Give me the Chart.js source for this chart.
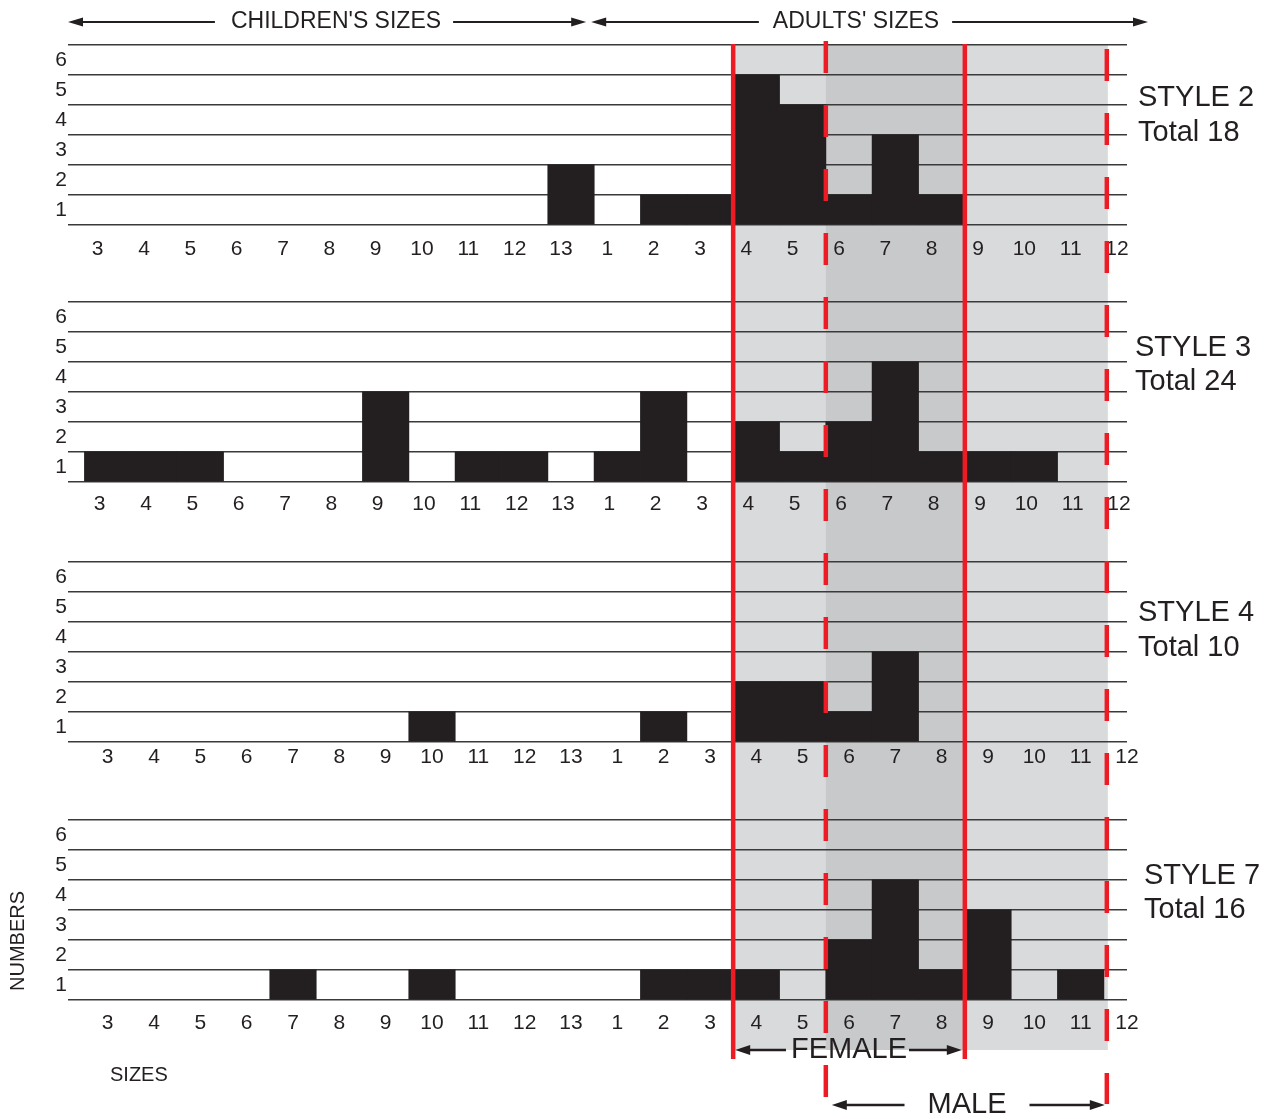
<!DOCTYPE html>
<html><head><meta charset="utf-8">
<script src="https://cdn.jsdelivr.net/npm/chart.js@4.4.1/dist/chart.umd.min.js"></script>
<style>
html,body{margin:0;padding:0;background:#fff;}
#wrap{position:relative;width:1269px;height:1119px;overflow:hidden;background:#fff;}
#wrap canvas{position:absolute;left:0;}
</style></head><body>
<div id="wrap">
<canvas id="c1" width="1269" height="280" style="top:0px"></canvas>
<canvas id="c2" width="1269" height="260" style="top:280px"></canvas>
<canvas id="c3" width="1269" height="260" style="top:540px"></canvas>
<canvas id="c4" width="1269" height="319" style="top:800px"></canvas>
</div>
<script>
// ---------- DATA ----------
const childSizes = ['3','4','5','6','7','8','9','10','11','12','13'];
const adultSizes = ['1','2','3','4','5','6','7','8','9','10','11','12'];
const sizeLabels = childSizes.concat(adultSizes);
const yTickLabels = [1, 2, 3, 4, 5, 6];
const styleNames = ['STYLE 2', 'STYLE 3', 'STYLE 4', 'STYLE 7'];
//                 children 3..13               adults 1..12
const style2 = [0,0,0,0,0,0,0,0,0,0,2,  0,1,1,5,4,1,3,1,0,0,0,0];
const style3 = [1,1,1,0,0,0,3,0,1,1,0,  1,3,0,2,1,2,4,1,1,1,0,0];
const style4 = [0,0,0,0,0,0,0,1,0,0,0,  0,1,0,2,2,1,3,0,0,0,0,0];
const style7 = [0,0,0,0,1,0,0,1,0,0,0,  0,1,1,1,0,2,4,1,3,0,1,0];
const femaleRange = ['4', '8'];   // adult sizes
const maleRange = ['6', '11'];    // adult sizes
const headerTexts = ["CHILDREN'S SIZES", "ADULTS' SIZES"];
const footerTexts = ['FEMALE', 'MALE'];
const axisTitles = ['NUMBERS', 'SIZES'];

// ---------- STYLE / LAYOUT ----------
const FONT = "'Liberation Sans', Arial, Helvetica, sans-serif";
const INK = '#231f20';
const RED = '#ed1c24';
const LIGHT = '#d9dadc';
const DARK = '#c8c9cb';
const GRID = '#3a3a3a';
const X_MIN = -0.356, X_MAX = 22.5;
const AREA_LEFT = 68, AREA_RIGHT = 1127, AREA_H = 180, XAXIS_H = 40;

const adultIdx = s => childSizes.length + adultSizes.indexOf(s);
const fStart = adultIdx(femaleRange[0]), fEnd = adultIdx(femaleRange[1]) + 1;
const mStart = adultIdx(maleRange[0]), mEnd = adultIdx(maleRange[1]) + 1;

const panels = [
  {id:'c1', top:0,   h:280, areaTop:45,  values:style2, name:styleNames[0], lblOff:-10, tickPad:12, sideX:1138, s1:53, s2:88},
  {id:'c2', top:280, h:260, areaTop:302, values:style3, name:styleNames[1], lblOff:-8,  tickPad:10, sideX:1135, s1:46, s2:80},
  {id:'c3', top:540, h:260, areaTop:562, values:style4, name:styleNames[2], lblOff:0,   tickPad:3,  sideX:1138, s1:51, s2:86},
  {id:'c4', top:800, h:319, areaTop:820, values:style7, name:styleNames[3], lblOff:0,   tickPad:11, sideX:1144, s1:56, s2:90}
];

const GREY_TOP = 45, GREY_BOTTOM = 1050;

function arrowLine(ctx, xFrom, xTo, y, lw, headLen, headHalf) {
  const dir = Math.sign(xTo - xFrom);
  ctx.lineWidth = lw;
  ctx.beginPath(); ctx.moveTo(xFrom, y); ctx.lineTo(xTo - dir * headLen * 0.7, y); ctx.stroke();
  ctx.beginPath(); ctx.moveTo(xTo, y);
  ctx.lineTo(xTo - dir * headLen, y - headHalf);
  ctx.lineTo(xTo - dir * headLen, y + headHalf);
  ctx.closePath(); ctx.fill();
}

function makeOverlay(p, index) {
  return {
    id: 'overlay' + index,
    beforeDraw(chart) {
      const ctx = chart.ctx, xs = chart.scales.x;
      const P = v => xs.getPixelForValue(v);
      const top = Math.max(GREY_TOP - p.top, index === 0 ? chart.chartArea.top : 0);
      const bottom = Math.min(GREY_BOTTOM - p.top, p.h);
      ctx.save();
      ctx.fillStyle = LIGHT;
      ctx.fillRect(P(fStart), top, P(mEnd) + 4 - P(fStart), bottom - top);
      ctx.fillStyle = DARK;
      ctx.fillRect(P(mStart), top, P(fEnd) - P(mStart), bottom - top);
      ctx.restore();
    },
    afterDraw(chart) {
      const ctx = chart.ctx, xs = chart.scales.x, area = chart.chartArea;
      const P = v => xs.getPixelForValue(v);
      ctx.save();
      // red boundary lines (page coordinates converted to this canvas)
      ctx.strokeStyle = RED;
      ctx.lineWidth = 4.5;
      ctx.setLineDash([]);
      [fStart, fEnd].forEach(v => {
        ctx.beginPath(); ctx.moveTo(P(v), 44 - p.top); ctx.lineTo(P(v), 1059 - p.top); ctx.stroke();
      });
      ctx.setLineDash([32, 32]);
      ctx.beginPath(); ctx.moveTo(P(mStart), 41 - p.top); ctx.lineTo(P(mStart), 1097 - p.top); ctx.stroke();
      ctx.beginPath(); ctx.moveTo(P(mEnd) + 3, 49 - p.top); ctx.lineTo(P(mEnd) + 3, 1104 - p.top); ctx.stroke();
      ctx.setLineDash([]);

      ctx.fillStyle = INK; ctx.strokeStyle = INK;
      // side labels
      const total = p.values.reduce((a, b) => a + b, 0);
      ctx.font = '29px ' + FONT;
      ctx.textAlign = 'left'; ctx.textBaseline = 'middle';
      ctx.fillText(p.name, p.sideX, area.top + p.s1);
      ctx.fillText('Total ' + total, p.sideX, area.top + p.s2);

      if (index === 0) {
        const y = 22;
        ctx.font = '23px ' + FONT;
        ctx.textAlign = 'center';
        const cL = area.left, cR = P(childSizes.length) - 8;
        const aL = P(childSizes.length) - 3, aR = P(X_MAX) + 21;
        const cX = 336, aX = 856;
        const w1 = ctx.measureText(headerTexts[0]).width, w2 = ctx.measureText(headerTexts[1]).width;
        ctx.fillText(headerTexts[0], cX, y);
        ctx.fillText(headerTexts[1], aX, y);
        arrowLine(ctx, cX - w1 / 2 - 16, cL, y, 2, 15, 4.5);
        arrowLine(ctx, cX + w1 / 2 + 12, cR, y, 2, 15, 4.5);
        arrowLine(ctx, aX - w2 / 2 - 14, aL, y, 2, 15, 4.5);
        arrowLine(ctx, aX + w2 / 2 + 13, aR, y, 2, 15, 4.5);
      }
      if (index === 3) {
        ctx.font = '29px ' + FONT;
        ctx.textAlign = 'center';
        // FEMALE
        const fy = 1050 - p.top, fL = P(fStart) + 2, fR = P(fEnd) - 3, fX = 849;
        const fw = ctx.measureText(footerTexts[0]).width;
        ctx.fillText(footerTexts[0], fX, fy);
        arrowLine(ctx, fX - fw / 2 - 5, fL, fy, 2.5, 15, 5);
        arrowLine(ctx, fX + fw / 2 + 2, fR, fy, 2.5, 15, 5);
        // MALE
        const my = 1105 - p.top, mL = P(mStart) + 6, mR = P(mEnd) + 1, mX = 967;
        const mw = ctx.measureText(footerTexts[1]).width;
        ctx.fillText(footerTexts[1], mX, my);
        arrowLine(ctx, mX - mw / 2 - 23, mL, my, 2.5, 15, 5);
        arrowLine(ctx, mX + mw / 2 + 23, mR, my, 2.5, 15, 5);
        // axis titles
        ctx.font = '20px ' + FONT;
        ctx.textAlign = 'left';
        ctx.fillText(axisTitles[1], 110, 1075 - p.top);
        ctx.save();
        ctx.translate(18, 941 - p.top);
        ctx.rotate(-Math.PI / 2);
        ctx.textAlign = 'center';
        ctx.fillText(axisTitles[0], 0, 0);
        ctx.restore();
      }
      ctx.restore();
    }
  };
}

panels.forEach((p, index) => {
  const padTop = p.areaTop - p.top;
  const padBottom = p.h - padTop - AREA_H - XAXIS_H;
  new Chart(document.getElementById(p.id), {
    type: 'bar',
    data: {
      datasets: [{
        data: p.values.map((v, i) => ({x: i + 0.5, y: v === 0 ? null : v})),
        backgroundColor: INK,
        borderWidth: 0,
        barPercentage: 1,
        categoryPercentage: 1,
        inflateAmount: 0.4
      }]
    },
    options: {
      responsive: false,
      animation: false,
      devicePixelRatio: 1,
      layout: {padding: {top: padTop, bottom: padBottom, left: 0, right: 1269 - AREA_RIGHT}},
      plugins: {legend: {display: false}, tooltip: {enabled: false}},
      scales: {
        x: {
          type: 'linear',
          min: X_MIN, max: X_MAX,
          offset: false,
          grid: {display: false, offset: false, drawTicks: false},
          border: {display: false},
          afterBuildTicks: s => { s.ticks = sizeLabels.map((_, i) => ({value: i + 0.5})); },
          afterFit: s => { s.height = XAXIS_H; },
          ticks: {
            autoSkip: false, maxRotation: 0, minRotation: 0,
            padding: p.tickPad, labelOffset: p.lblOff,
            color: INK, font: {family: FONT, size: 21},
            callback: (v, i) => sizeLabels[i]
          }
        },
        y: {
          type: 'linear',
          min: 0, max: 6,
          grid: {color: GRID, lineWidth: 1.6, drawTicks: false},
          border: {display: false},
          afterFit: s => { s.width = AREA_LEFT; },
          ticks: {
            stepSize: 1, padding: 1, labelOffset: 15,
            color: INK, font: {family: FONT, size: 21},
            callback: v => yTickLabels.includes(v) ? String(v) : ''
          }
        }
      }
    },
    plugins: [makeOverlay(p, index)]
  });
});
</script>
</body></html>
